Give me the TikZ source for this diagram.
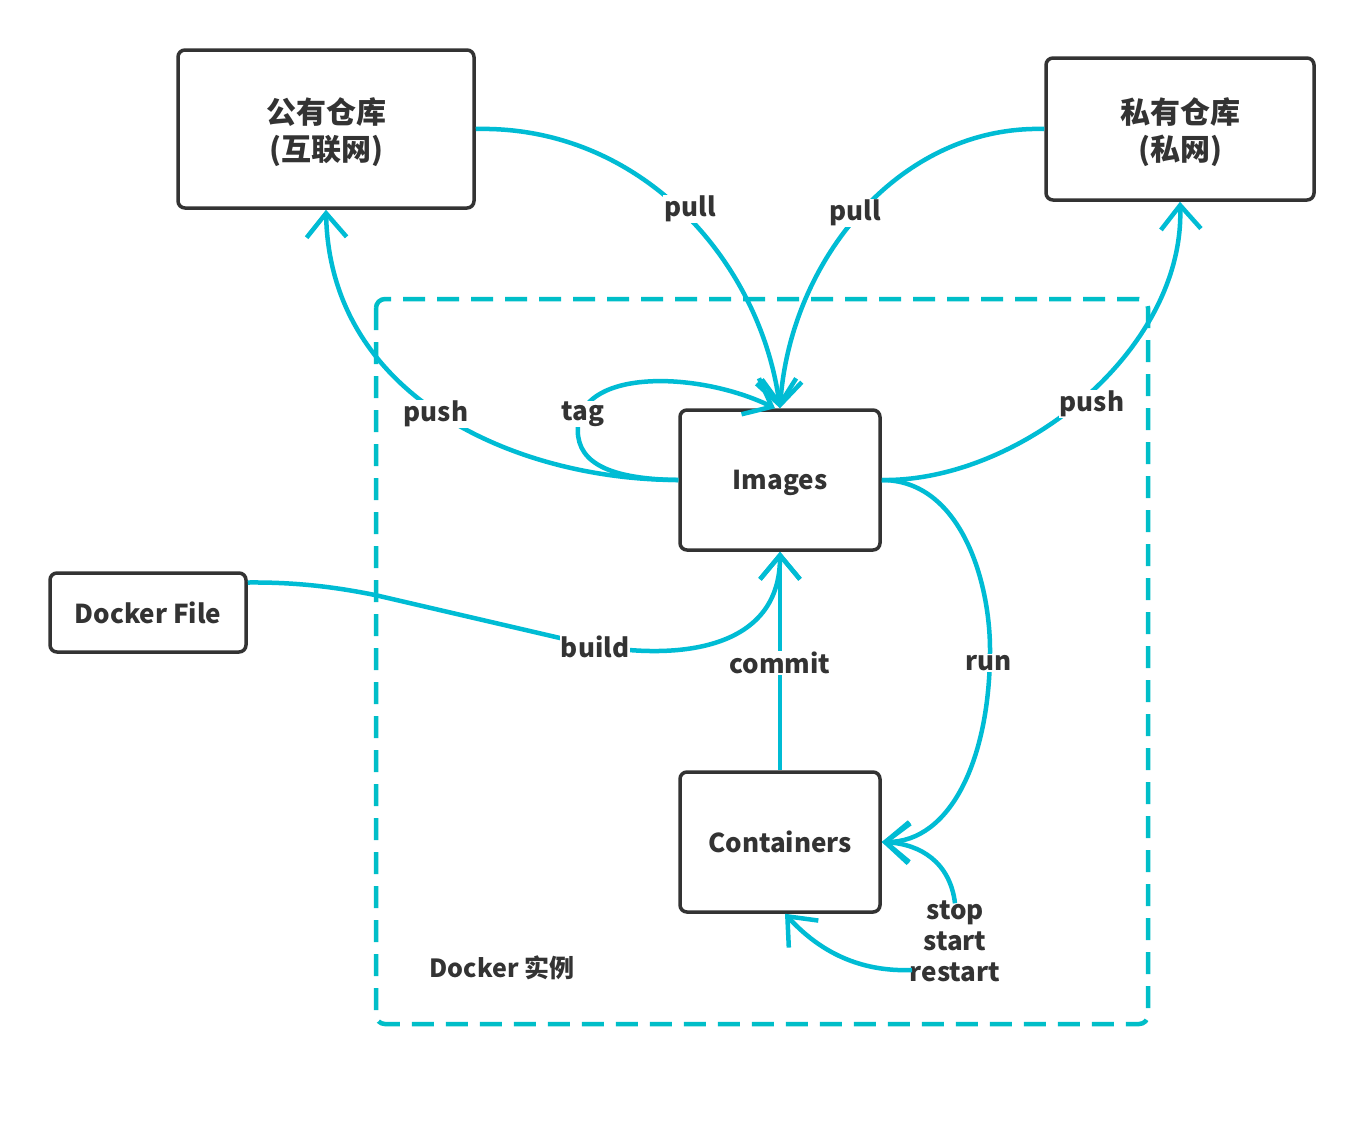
\documentclass[tikz,border=0pt]{standalone}
\usepackage{fontspec}
\setmainfont{Noto Sans CJK SC}
\newfontfamily\cjk{Noto Sans CJK SC}
\usetikzlibrary{arrows.meta}
\definecolor{cyanline}{RGB}{0,188,212}
\definecolor{dashc}{RGB}{0,190,200}
\definecolor{boxc}{RGB}{51,51,51}
\tikzset{
  box/.style={draw=boxc, line width=3.5pt, rounded corners=7pt, fill=white, text=boxc, font=\bfseries\fontsize{26}{31}\selectfont, align=center, inner sep=0pt, text depth=0pt},
  cjkbox/.style={box, font=\cjk\bfseries\fontsize{30}{37}\selectfont},
  conn/.style={draw=cyanline, line width=4.5pt},
  arr/.style={conn, -{Straight Barb[length=24pt,width=40pt,line width=4.5pt]}},
  lbl/.style={fill=white, text=boxc, font=\bfseries\fontsize{26}{31}\selectfont, inner sep=1pt, align=center},
}
\begin{document}
\begin{tikzpicture}[x=1pt,y=-1pt]
\path[use as bounding box, fill=white] (0,0) rectangle (1364,1125);
% Docker instance dashed frame
\draw[draw=dashc, line width=4.5pt, dash pattern=on 22pt off 12pt, rounded corners=9pt] (376,299) rectangle (1148,1024);
\node[lbl, fill=none, font=\cjk\bfseries\fontsize{25}{30}\selectfont] (inst) at (502,968) {Docker 实例};
% boxes
\node[cjkbox, minimum width=296pt, minimum height=158pt] (pub) at (326,129) {公有仓库\\(互联网)};
\node[cjkbox, minimum width=268pt, minimum height=142pt] (priv) at (1180,129) {私有仓库\\(私网)};
\node[box, minimum width=200pt, minimum height=140pt] (img) at (780,480) {Images};
\node[box, minimum width=200pt, minimum height=140pt] (cont) at (780,842) {Containers};
\node[box, minimum width=196pt, minimum height=79pt] (df) at (148,612.5) {Docker File};
% connectors
\draw[arr] (pub.east) .. controls (640,125) and (760,260) .. (img.north);
\draw[arr] (priv.west) .. controls (900,125) and (790,260) .. (img.north);
\draw[arr] (img.west) .. controls (520,480) and (330,400) .. (pub.south);
\draw[arr] (img.east) .. controls (1020,482) and (1185,350) .. (priv.south);
\draw[arr] (img.west) .. controls (600,479) and (575,458) .. (578,425) .. controls (585,368) and (700,372) .. ([xshift=-5pt]img.north);
\draw[arr] ([yshift=30pt]df.east) .. controls (300,582) and (340,588) .. (375,595) -- (560,638) .. controls (650,662) and (780,662) .. (img.south);
\draw[arr] (cont.north) -- (img.south);
\draw[arr] (img.east) .. controls (960,480) and (990,580) .. (990,650) .. controls (990,760) and (950,842) .. (cont.east);
\node[lbl, fill=none] (ssr) at (955,941) {stop\\start\\restart};
\coordinate (rs) at (912,970);
\draw[arr] ([yshift=-4pt]ssr.north) .. controls (950,862) and (920,844) .. (cont.east);
\draw[arr] (rs) .. controls (860,972) and (820,952) .. ([xshift=5pt]cont.south);
% labels
\node[lbl] (l1) at (690,209) {pull};
\node[lbl] (l2) at (855,213) {pull};
\node[lbl] (l3) at (436,414) {push};
\node[lbl] (l4) at (1092,404) {push};
\node[lbl] (l5) at (583,414) {tag};
\node[lbl] (l6) at (595,647) {build};
\node[lbl] (l7) at (780,663) {commit};
\node[lbl] (l8) at (989,663) {run};
\end{tikzpicture}
\end{document}
